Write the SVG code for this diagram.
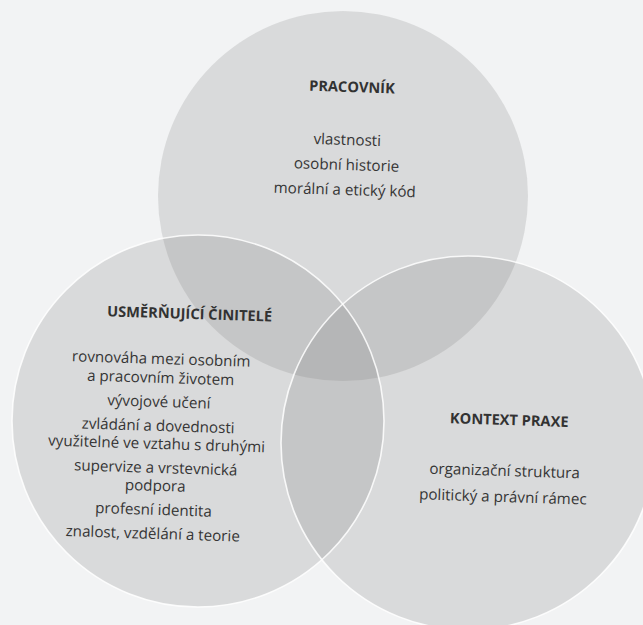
<svg xmlns="http://www.w3.org/2000/svg" width="643" height="625" viewBox="0 0 643 625">
<style>
  .circ { fill: #7a7a7a; fill-opacity: 0.2; }
  .edge { fill: none; stroke: #ffffff; stroke-width: 1.6; stroke-opacity: 0.85; }
  .hd { font-family: "Open Sans", "Liberation Sans", sans-serif; font-weight: bold; font-size: 14.6px; fill: #323232; text-anchor: middle; }
  .tx { font-family: "Open Sans", "Liberation Sans", sans-serif; font-size: 15.2px; fill: #353535; text-anchor: middle; }
</style>
<rect x="0" y="0" width="643" height="625" fill="#f2f3f4"/>
<g id="pracovnik">
  <circle class="circ" cx="343" cy="196" r="185"/>
</g>
<g id="usmernujici-cinitele">
  <circle class="circ" cx="198" cy="421" r="186"/>
</g>
<g id="kontext-praxe">
  <circle class="circ" cx="468" cy="443" r="187"/>
</g>
<g id="edges">
  <circle class="edge" cx="198" cy="421" r="186"/>
  <circle class="edge" cx="468" cy="443" r="187"/>
</g>
<g id="pracovnik-text" transform="rotate(1.8 347 150)">
  <text class="hd" x="350" y="92">PRACOVNÍK</text>
  <text class="tx" x="347" y="145">vlastnosti</text>
  <text class="tx" x="347" y="170">osobní historie</text>
  <text class="tx" x="346" y="195">morální a etický kód</text>
</g>
<g id="usmernujici-text" transform="rotate(1.8 160 430)">
  <text class="hd" x="186" y="318">USMĚRŇUJÍCÍ ČINITELÉ</text>
  <text class="tx" x="159" y="364">rovnováha mezi osobním</text>
  <text class="tx" x="159" y="383">a pracovním životem</text>
  <text class="tx" x="158" y="407">vývojové učení</text>
  <text class="tx" x="158" y="431">zvládání a dovednosti</text>
  <text class="tx" x="157" y="449">využitelné ve vztahu s druhými</text>
  <text class="tx" x="157" y="473">supervize a vrstevnická</text>
  <text class="tx" x="157" y="491">podpora</text>
  <text class="tx" x="156" y="515">profesní identita</text>
  <text class="tx" x="156" y="539">znalost, vzdělání a teorie</text>
</g>
<g id="kontext-text" transform="rotate(1.8 505 460)">
  <text class="hd" x="508" y="425">KONTEXT PRAXE</text>
  <text class="tx" x="505" y="476">organizační struktura</text>
  <text class="tx" x="504" y="502">politický a právní rámec</text>
</g>
</svg>
